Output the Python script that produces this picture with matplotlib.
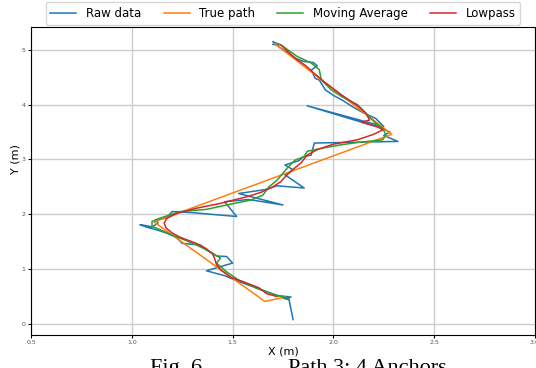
import numpy as np
from matplotlib import pyplot as plt

# raw UWB readings
raw_x = [1.80, 1.78, 1.75, 1.79, 1.72, 1.69, 1.66, 1.62, 1.57, 1.52, 1.46, 1.37, 1.50, 1.47,
         1.42, 1.38, 1.34, 1.25, 1.22, 1.17, 1.12, 1.07, 1.04, 1.06, 1.10, 1.13, 1.12, 1.17,
         1.20, 1.30, 1.52, 1.46, 1.58, 1.75, 1.53, 1.66, 1.72, 1.855, 1.76, 1.80, 1.76, 1.83,
         1.85, 1.89, 1.905, 2.32, 2.25, 2.28, 2.24, 1.87, 2.25, 2.21, 2.15, 2.10, 2.05, 2.00,
         1.96, 1.93, 1.91, 1.89, 1.92, 1.90, 1.85, 1.81, 1.76, 1.72, 1.70, 1.73, 1.70]
raw_y = [0.08, 0.44, 0.47, 0.49, 0.52, 0.56, 0.60, 0.66, 0.72, 0.79, 0.88, 0.97, 1.11, 1.23,
         1.24, 1.33, 1.44, 1.47, 1.58, 1.66, 1.72, 1.77, 1.81, 1.80, 1.77, 1.84, 1.90, 1.93,
         2.05, 2.03, 1.96, 2.23, 2.27, 2.17, 2.38, 2.45, 2.52, 2.48, 2.72, 2.81, 2.90, 2.98,
         3.05, 3.08, 3.30, 3.33, 3.44, 3.50, 3.57, 3.98, 3.60, 3.75, 3.85, 3.95, 4.07, 4.17,
         4.27, 4.45, 4.48, 4.63, 4.71, 4.77, 4.79, 4.85, 4.98, 5.08, 5.15, 5.09, 5.10]

# true path
true_x = [1.76, 1.66, 1.11, 2.29, 1.71]
true_y = [0.49, 0.41, 1.86, 3.46, 5.11]

# moving average
ma_x = [1.78, 1.72, 1.69, 1.64, 1.60, 1.53, 1.47, 1.42, 1.44, 1.40, 1.36, 1.32, 1.27, 1.22,
        1.17, 1.14, 1.10, 1.10, 1.14, 1.24, 1.37, 1.47, 1.59, 1.65, 1.68, 1.72, 1.77, 1.81,
        1.855, 1.87, 1.95, 2.04, 2.12, 2.245, 2.26, 2.245, 2.21, 2.16, 2.12, 2.04, 1.99,
        1.94, 1.93, 1.89, 1.82, 1.74, 1.72]
ma_y = [0.46, 0.52, 0.56, 0.62, 0.68, 0.80, 0.95, 1.11, 1.20, 1.29, 1.37, 1.44, 1.52, 1.59,
        1.67, 1.72, 1.78, 1.87, 1.93, 2.05, 2.09, 2.17, 2.26, 2.35, 2.50, 2.62, 2.84, 2.99,
        3.05, 3.15, 3.21, 3.27, 3.31, 3.36, 3.45, 3.57, 3.66, 3.85, 4.00, 4.15, 4.27,
        4.45, 4.64, 4.76, 4.88, 5.09, 5.12]

# lowpass filter
lp_x = [1.72, 1.67, 1.63, 1.56, 1.49, 1.44, 1.42, 1.41, 1.40, 1.37, 1.32, 1.24, 1.20, 1.17,
        1.16, 1.175, 1.225, 1.32, 1.44, 1.57, 1.64, 1.70, 1.74, 1.77, 1.80, 1.84, 1.87, 1.92,
        2.00, 2.12, 2.20, 2.245, 2.22, 2.14, 2.18, 2.16, 2.12, 2.04, 1.96, 1.905, 1.86, 1.82,
        1.77, 1.74]
lp_y = [0.50, 0.55, 0.66, 0.76, 0.85, 0.99, 1.08, 1.20, 1.28, 1.37, 1.47, 1.58, 1.66, 1.75,
        1.84, 1.93, 2.02, 2.11, 2.20, 2.32, 2.40, 2.50, 2.60, 2.72, 2.82, 2.94, 3.08, 3.18,
        3.28, 3.36, 3.46, 3.54, 3.60, 3.68, 3.72, 3.85, 3.98, 4.18, 4.40, 4.57, 4.72, 4.82,
        4.98, 5.09]

fig = plt.figure(figsize=(5.36, 3.68), dpi=100)
ax = fig.add_axes([0.058, 0.09, 0.94, 0.837])

ax.plot(raw_x, raw_y, color='tab:blue', lw=1.1, label='Raw data')
ax.plot(true_x, true_y, color='tab:orange', lw=1.1, label='True path')
ax.plot(ma_x, ma_y, color='tab:green', lw=1.1, label='Moving Average')
ax.plot(lp_x, lp_y, color='tab:red', lw=1.1, label='Lowpass')

ax.set_xlim(0.5, 3.0)
ax.set_ylim(-0.2, 5.42)
ax.set_xticks([0.5, 1.0, 1.5, 2.0, 2.5, 3.0])
ax.set_yticks([0, 1, 2, 3, 4, 5])
ax.grid(True, color='#cccccc', lw=1)
ax.tick_params(labelsize=4.5, labelcolor='#555555', length=2, pad=2)

ax.set_xlabel('X (m)', fontsize=8)
ax.set_ylabel('Y (m)', fontsize=8)
ax.xaxis.set_label_coords(0.5, -0.038)
ax.yaxis.set_label_coords(-0.022, 0.57)

ax.legend(loc='lower center', bbox_to_anchor=(0.5, 1.0), ncol=4, fontsize=8.5,
          borderaxespad=0.2, columnspacing=1.9, handlelength=2.2)

# caption of the paper figure, clipped at the bottom like the scan
fig.text(150 / 536, -0.013, 'Fig. 6.', fontsize=16, family='Liberation Serif',
         va='baseline', ha='left')
fig.text(288 / 536, -0.013, 'Path 3: 4 Anchors', fontsize=16, family='Liberation Serif',
         va='baseline', ha='left')

fig.savefig('out.png')
